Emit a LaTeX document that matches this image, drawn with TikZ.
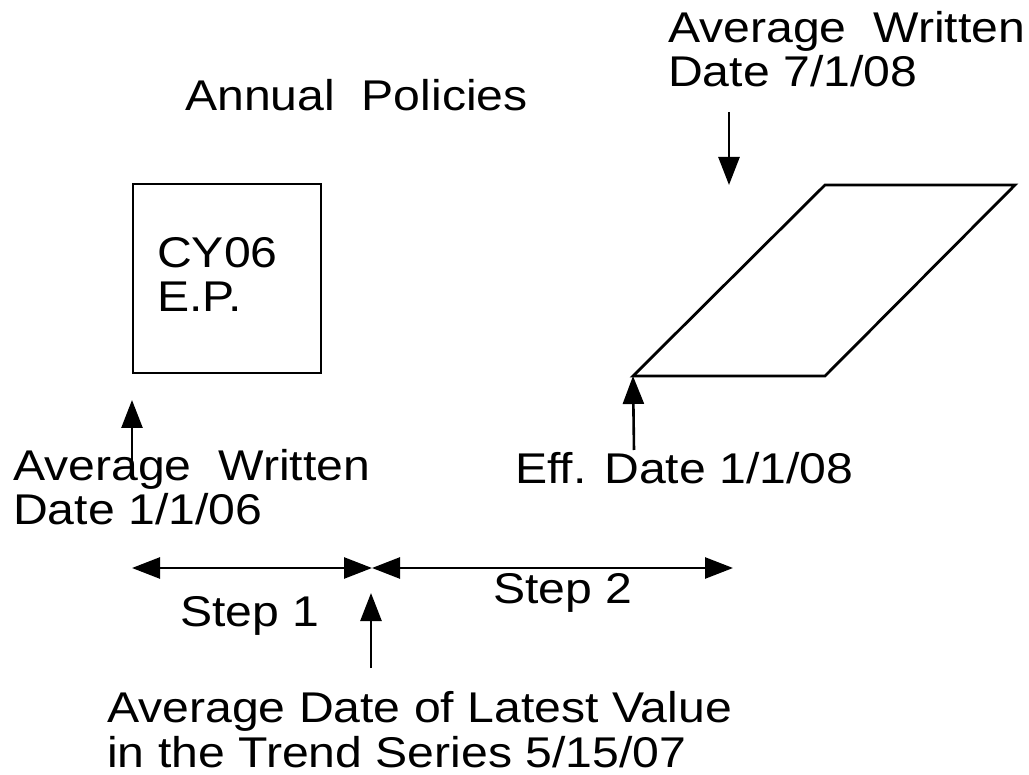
\documentclass[tikz,border=0pt]{standalone}
\usepackage{fontspec}
\setmainfont[FakeStretch=1.12]{Liberation Sans}
\usetikzlibrary{arrows.meta}
\begin{document}
\begin{tikzpicture}[x=1pt,y=-1pt,
  lbl/.style={anchor=base west,inner sep=0pt,align=left,font=\fontsize{43}{44.5}\selectfont},
  shp/.style={draw=black,line width=2.8pt,line join=miter},
  arr/.style={line width=2.6pt,-{Triangle[length=28pt,width=21pt]}},
  darr/.style={line width=2.6pt,{Triangle[length=28pt,width=21pt]}-{Triangle[length=28pt,width=21pt]}}]
\useasboundingbox (0,0) rectangle (1029,775);
% texts
\node[lbl] (topr) at (668,87) {Average~~Written\\Date 7/1/08};
\node[lbl] (annual) at (185,111) {Annual~~Policies};
\node[lbl] (cy) at (157,312) {CY06\\E.P.};
\node[lbl] (leftw) at (13,525) {Average~~Written\\Date 1/1/06};
\node[lbl] (eff) at (515,484) {Eff. Date 1/1/08};
\node[lbl] (s1) at (180,626) {Step 1};
\node[lbl] (s2) at (493,603) {Step 2};
\node[lbl] (bot) at (107,767) {Average Date of Latest Value\\in the Trend Series 5/15/07};
% shapes
\node[shp,minimum width=188pt,minimum height=189pt,inner sep=0pt] (box) at (227,278.5) {};
\coordinate (pbl) at (633,376);
\coordinate (pbr) at (825,376);
\coordinate (ptr) at (1015,185);
\coordinate (ptl) at (825,185);
\draw[shp] (pbl) -- (pbr) -- (ptr) -- (ptl) -- cycle;
% arrows
\coordinate (a1s) at (132,462);
\coordinate (a1e) at (132,400);
\draw[arr] (a1s) -- (a1e);
\coordinate (a2s) at (729,112);
\coordinate (a2e) at (729,185);
\draw[arr] (a2s) -- (a2e);
\coordinate (a3s) at (634,450);
\draw[arr] (a3s) -- (pbl);
\coordinate (st1) at (132,568);
\coordinate (mid) at (372,568);
\coordinate (st2) at (733,568);
\draw[darr] (st1) -- (mid);
\draw[darr] (mid) -- (st2);
\coordinate (a4s) at (371,668);
\coordinate (a4e) at (371,593);
\draw[arr] (a4s) -- (a4e);
\end{tikzpicture}
\end{document}
